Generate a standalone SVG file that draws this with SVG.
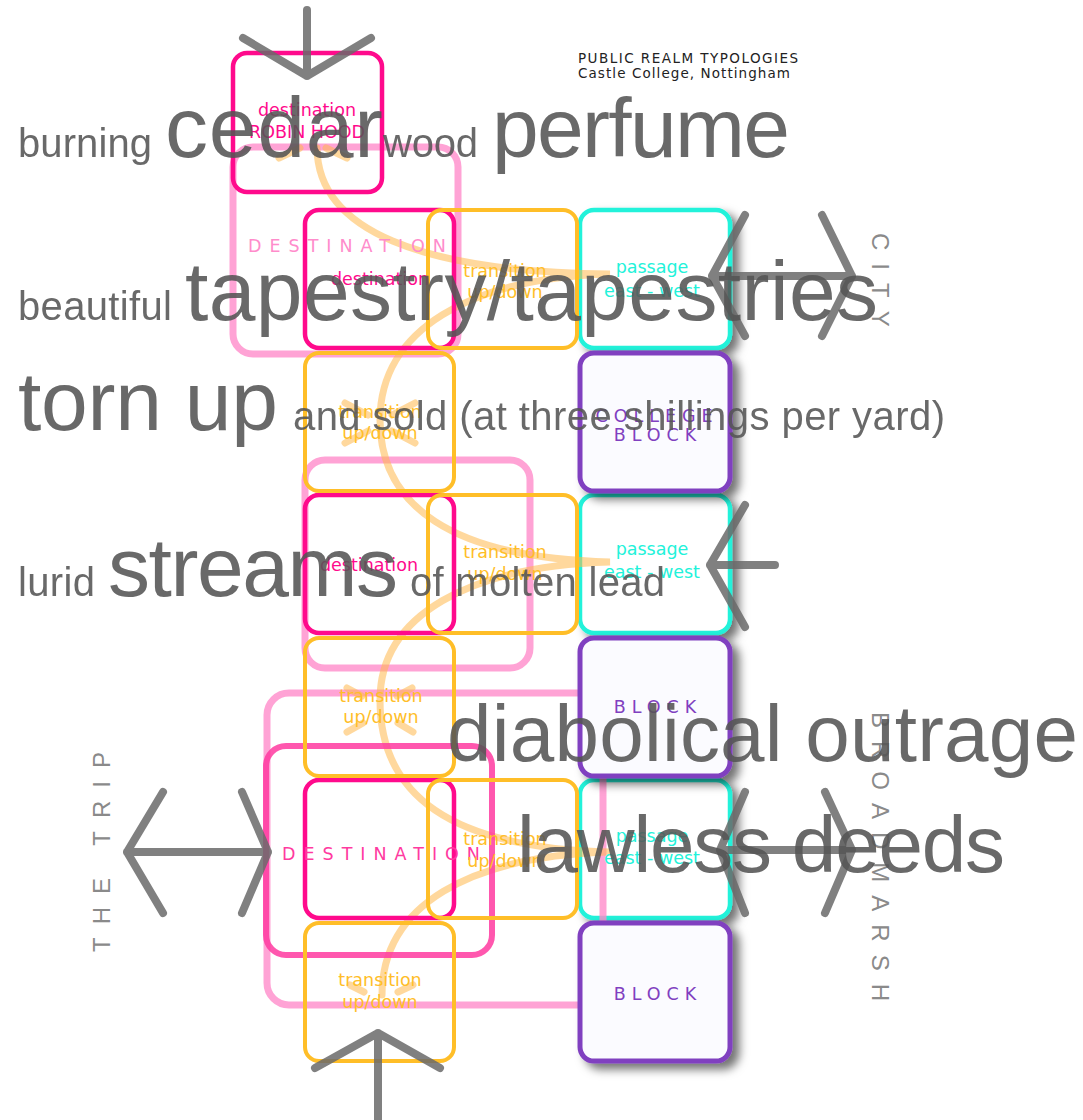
<svg xmlns="http://www.w3.org/2000/svg" width="1083" height="1120" viewBox="0 0 1083 1120">
<defs>
<filter id="sh" x="-20%" y="-20%" width="150%" height="150%">
<feDropShadow dx="7" dy="6" stdDeviation="5" flood-color="#000" flood-opacity="0.55"/>
</filter>
<style>
.dest{fill:none;stroke:#ff0a8c;stroke-width:4.5}
.tran{fill:none;stroke:#ffbe28;stroke-width:4}
.pass{fill:#ffffff;stroke:#22f2da;stroke-width:4.5;filter:url(#sh)}
.blk{fill:#fbfbff;stroke:#8040c0;stroke-width:5;filter:url(#sh)}
.big1{fill:none;stroke:#ff8ccb;stroke-width:7;opacity:0.8}
.big2{fill:none;stroke:#ff3aa0;stroke-width:6;opacity:0.85}
.curve{fill:none;stroke:#ffb84d;stroke-width:7;stroke-linecap:round;opacity:0.55}
.arr{fill:none;stroke:#6a6a6a;stroke-width:8;stroke-linecap:round;stroke-linejoin:round;opacity:0.85}
.lbl{font-family:"DejaVu Sans",Verdana,sans-serif;font-size:17.5px;text-anchor:middle}
.lp{fill:#ff0a8c}
.lt{fill:#ffbe28}
.lc{fill:#22f2da}
.lb{fill:#8040c0;letter-spacing:6px}
.sp{letter-spacing:8px}
.word{font-family:"Liberation Sans",Arial,sans-serif;fill:#555555;opacity:0.88}
.side{font-family:"Liberation Sans",Arial,sans-serif;font-size:24px;fill:#8a8a8a;letter-spacing:13px}
.title{font-family:"DejaVu Sans",Verdana,sans-serif;font-size:13.5px;fill:#222222}
</style>
</defs>
<rect width="1083" height="1120" fill="#ffffff"/>

<g id="passages">
<g id="passage1"><rect class="pass" x="580" y="210" width="150" height="138" rx="14"/></g>
<g id="passage2"><rect class="pass" x="580" y="495" width="150" height="138" rx="14"/></g>
<g id="passage3"><rect class="pass" x="580" y="780" width="150" height="138" rx="14"/></g>
</g>

<g id="destination-zones">
<g id="zone1"><rect class="big1" x="233" y="147" width="225" height="207" rx="20"/></g>
<g id="zone2"><rect class="big1" x="305" y="460" width="225" height="208" rx="20"/></g>
<g id="zone3"><rect class="big1" x="267" y="693" width="336" height="312" rx="22"/></g>
</g>

<g id="connectors">
<path class="curve" d="M317,148 C318,230 420,272 610,274 C470,278 380,330 380,420 C380,505 450,558 610,562 C470,566 380,615 380,700 C380,795 450,848 610,852 C470,856 382,905 382,995"/>
<path class="curve" d="M279,158 L300,148 M347,158 L326,148 M345,403 L368,415 M415,403 L392,415 M345,443 L368,431 M415,443 L392,431 M347,688 L362,696 M412,688 L397,696 M347,732 L363,723 M413,732 L398,723 M350,985 L364,992 M413,985 L398,992"/>
</g>

<g id="blocks">
<g id="college-block"><rect class="blk" x="580" y="353" width="150" height="138" rx="14"/></g>
<g id="block1"><rect class="blk" x="580" y="638" width="150" height="138" rx="14"/></g>
<g id="block2"><rect class="blk" x="580" y="923" width="150" height="138" rx="14"/></g>
</g>

<g id="zone4"><rect class="big2" x="266" y="746" width="226" height="209" rx="20"/></g>

<g id="robin-hood"><rect class="dest" x="233" y="53" width="149" height="139" rx="14"/></g>
<g id="dest1"><rect class="dest" x="305" y="210" width="149" height="138" rx="14"/></g>
<g id="dest2"><rect class="dest" x="305" y="495" width="149" height="138" rx="14"/></g>
<g id="dest3"><rect class="dest" x="305" y="780" width="149" height="138" rx="14"/></g>

<g id="trans-h1"><rect class="tran" x="428" y="210" width="149" height="138" rx="14"/></g>
<g id="trans-v1"><rect class="tran" x="305" y="353" width="149" height="138" rx="14"/></g>
<g id="trans-h2"><rect class="tran" x="428" y="495" width="149" height="138" rx="14"/></g>
<g id="trans-v2"><rect class="tran" x="305" y="638" width="149" height="138" rx="14"/></g>
<g id="trans-h3"><rect class="tran" x="428" y="780" width="149" height="138" rx="14"/></g>
<g id="trans-v3"><rect class="tran" x="305" y="923" width="149" height="138" rx="14"/></g>

<g id="labels">
<text class="lbl lp" x="307" y="116">destination</text>
<text class="lbl lp" x="307" y="138">ROBIN HOOD</text>
<text class="lbl sp" x="351" y="252" fill="#ff8ccb">DESTINATION</text>
<text class="lbl lp" x="380" y="285">destination</text>
<text class="lbl lt" x="505" y="277">transition</text>
<text class="lbl lt" x="505" y="298">up/down</text>
<text class="lbl lc" x="652" y="273">passage</text>
<text class="lbl lc" x="652" y="297">east - west</text>
<text class="lbl lb" x="657" y="422">COLLEGE</text>
<text class="lbl lb" x="658" y="441">BLOCK</text>
<text class="lbl lt" x="380" y="418">transition</text>
<text class="lbl lt" x="380" y="439">up/down</text>
<text class="lbl lp" x="369" y="571">destination</text>
<text class="lbl lt" x="505" y="558">transition</text>
<text class="lbl lt" x="505" y="580">up/down</text>
<text class="lbl lc" x="652" y="555">passage</text>
<text class="lbl lc" x="652" y="578">east - west</text>
<text class="lbl lt" x="381" y="702">transition</text>
<text class="lbl lt" x="381" y="723">up/down</text>
<text class="lbl lb" x="658" y="713">BLOCK</text>
<text class="lbl sp" x="385" y="860" fill="#ff3aa0">DESTINATION</text>
<text class="lbl lt" x="505" y="845">transition</text>
<text class="lbl lt" x="505" y="867">up/down</text>
<text class="lbl lc" x="652" y="842">passage</text>
<text class="lbl lc" x="652" y="864">east - west</text>
<text class="lbl lt" x="380" y="986">transition</text>
<text class="lbl lt" x="380" y="1008">up/down</text>
<text class="lbl lb" x="658" y="1000">BLOCK</text>
</g>

<g id="arrows">
<path class="arr" d="M307,10 L307,76 M243,38 L307,76 L371,38"/>
<path class="arr" d="M712,276 L852,276 M745,215 L712,276 L745,336 M822,215 L852,276 L822,336"/>
<path class="arr" d="M710,565 L775,565 M745,505 L710,565 L745,627"/>
<path class="arr" d="M720,850 L852,850 M745,792 L720,850 L745,913 M825,792 L852,850 L825,913"/>
<path class="arr" d="M127,852 L268,852 M163,792 L127,852 L163,913 M242,792 L268,852 L242,913"/>
<path class="arr" d="M378,1120 L378,1033 M315,1068 L378,1033 L440,1068"/>
</g>

<g id="side-labels">
<text class="side" transform="translate(872,233) rotate(90)">CITY</text>
<text class="side" transform="translate(872,712) rotate(90)">BROADMARSH</text>
<text class="side" transform="translate(110,952) rotate(-90)">THE TRIP</text>
</g>

<g id="title">
<text class="title" x="578" y="63" textLength="220">PUBLIC REALM TYPOLOGIES</text>
<text class="title" x="578" y="78" textLength="212">Castle College, Nottingham</text>
</g>

<g id="words">
<text class="word" x="18" y="157" font-size="40" textLength="134">burning</text>
<text class="word" x="165" y="157" font-size="86" textLength="218">cedar</text>
<text class="word" x="383" y="157" font-size="40" textLength="95">wood</text>
<text class="word" x="492" y="157" font-size="84" textLength="298">perfume</text>
<text class="word" x="18" y="320" font-size="40" textLength="154">beautiful</text>
<text class="word" x="185" y="320" font-size="84" textLength="693">tapestry/tapestries</text>
<text class="word" x="18" y="430" font-size="84" textLength="260">torn up</text>
<text class="word" x="293" y="430" font-size="40" textLength="652">and sold (at three shillings per yard)</text>
<text class="word" x="18" y="596" font-size="40" textLength="77">lurid</text>
<text class="word" x="108" y="596" font-size="84" textLength="290">streams</text>
<text class="word" x="410" y="596" font-size="40" textLength="255">of molten lead</text>
<text class="word" x="447" y="761" font-size="80" textLength="631">diabolical outrage</text>
<text class="word" x="517" y="872" font-size="80" textLength="488">lawless deeds</text>
</g>
</svg>
